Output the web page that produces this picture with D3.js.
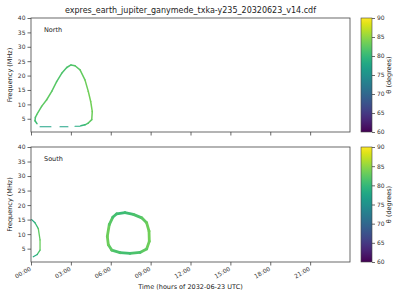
<!DOCTYPE html>
<html lang="en">
<head>
  <meta charset="UTF-8">
  <title>expres_earth_jupiter_ganymede</title>
  <style>
    body { margin: 0; background: #fff; }
    text { font-family: "DejaVu Sans", sans-serif; fill: #222; }
    .axis path, .axis line { stroke: #444; stroke-width: 0.8; fill: none; }
    .axis text { font-size: 6px; fill: #333; }
    .trace { fill: none; stroke-linecap: round; stroke-linejoin: round; }
  </style>
</head>
<body>
  <div id="chart"></div>

  <script src="https://d3js.org/d3.v7.min.js"></script>
  <script>
    // hour ticks and labels (shared x axis)
    const hourTicks = [0, 3, 6, 9, 12, 15, 18, 21];
    const hourLabels = ["00:00", "03:00", "06:00", "09:00", "12:00", "15:00", "18:00", "21:00"];
    const freqTicks = [5, 10, 15, 20, 25, 30, 35, 40];
    const thetaTicks = [60, 65, 70, 75, 80, 85, 90];

    // North hemisphere: main arc (hours, MHz, theta degrees)
    const northTime  = [0.45, 0.30, 0.33, 0.43, 0.80, 1.18, 1.56, 1.93, 2.31, 2.69, 3.01, 3.31, 3.69, 4.06, 4.31, 4.49, 4.61, 4.57, 4.31, 4.06, 3.75];
    const northFreq  = [3.3, 4.3, 5.5, 6.4, 9.3, 11.6, 14.5, 17.9, 20.8, 22.8, 23.7, 23.4, 22.0, 18.5, 14.5, 11.0, 7.5, 4.7, 3.5, 2.9, 2.6];
    const northTheta = [80, 81, 81.5, 82, 82.5, 82.5, 82.5, 82, 81.5, 81.5, 81.5, 82, 82.5, 83, 83.5, 83.5, 83.5, 83, 82, 81, 79];
    // North: broken low-frequency edge
    const northBaseStart = [0.68, 2.18, 3.31];
    const northBaseEnd   = [1.50, 2.78, 3.69];
    const northBaseFreq  = [2.2, 2.2, 2.4];
    const northBaseTheta = [77.5, 77.5, 78.5];

    // South hemisphere: early arc near midnight
    const southATime  = [0.05, 0.30, 0.55, 0.68, 0.68, 0.47, 0.17];
    const southAFreq  = [15.0, 13.9, 11.9, 8.0, 4.5, 3.0, 2.2];
    const southATheta = [77.5, 79, 82, 83, 83, 80, 77.5];

    // South hemisphere: closed loop around 06:00-09:00
    const southBTime  = [6.45, 7.07, 7.70, 8.33, 8.70, 8.88, 8.90, 8.70, 8.20, 7.45, 6.70, 6.07, 5.82, 5.74, 5.89, 6.15, 6.45];
    const southBFreq  = [17.0, 17.4, 16.8, 15.6, 13.9, 11.0, 7.5, 4.9, 3.7, 3.4, 3.6, 4.5, 6.3, 9.2, 13.3, 15.8, 17.0];
    const southBTheta = [80.5, 80.5, 81, 82, 83, 83.5, 83.5, 83, 82, 81, 81, 82, 83, 83.5, 83, 81.5, 80.5];

    const W = 400, H = 300;
    const left = 31, right = 350;
    const panels = [
      { name: "North", top: 18, bottom: 132 },
      { name: "South", top: 147, bottom: 262 }
    ];
    const cbLeft = 361, cbWidth = 11;

    const svg = d3.select("#chart").append("svg")
      .attr("width", W).attr("height", H);

    const x = d3.scaleLinear().domain([0, 24]).range([left, right]);
    const color = d3.scaleSequential(d3.interpolateViridis).domain([60, 90]);

    // gradient for the colorbars
    const grad = svg.append("defs").append("linearGradient")
      .attr("id", "viridis").attr("x1", 0).attr("y1", 1).attr("x2", 0).attr("y2", 0);
    d3.range(0, 1.0001, 0.05).forEach(s => {
      grad.append("stop").attr("offset", s).attr("stop-color", d3.interpolateViridis(s));
    });

    svg.append("text")
      .attr("x", (left + right) / 2).attr("y", 13)
      .attr("text-anchor", "middle").style("font-size", "8px")
      .text("expres_earth_jupiter_ganymede_txka-y235_20320623_v14.cdf");

    function drawTrace(g, y, ts, fs, th, width) {
      for (let i = 0; i < ts.length - 1; i++) {
        g.append("line")
          .attr("class", "trace")
          .attr("x1", x(ts[i])).attr("y1", y(fs[i]))
          .attr("x2", x(ts[i + 1])).attr("y2", y(fs[i + 1]))
          .attr("stroke", color((th[i] + th[i + 1]) / 2))
          .attr("stroke-width", width)
          .attr("stroke-linecap", "round");
      }
    }

    panels.forEach((p, pi) => {
      const y = d3.scaleLinear().domain([0.4, 40]).range([p.bottom, p.top]);
      const g = svg.append("g");

      if (pi === 0) {
        drawTrace(g, y, northTime, northFreq, northTheta, 1.5);
        northBaseStart.forEach((s, i) => {
          g.append("line").attr("class", "trace")
            .attr("x1", x(s)).attr("x2", x(northBaseEnd[i]))
            .attr("y1", y(northBaseFreq[i])).attr("y2", y(northBaseFreq[i]))
            .attr("stroke", color(northBaseTheta[i])).attr("stroke-width", 1.1);
        });
      } else {
        drawTrace(g, y, southATime, southAFreq, southATheta, 1.3);
        drawTrace(g, y, southBTime, southBFreq, southBTheta, 2.8);
      }

      // frame
      svg.append("rect")
        .attr("x", left).attr("y", p.top)
        .attr("width", right - left).attr("height", p.bottom - p.top)
        .attr("fill", "none").attr("stroke", "#444").attr("stroke-width", 0.8);

      svg.append("g").attr("class", "axis")
        .attr("transform", `translate(${left},0)`)
        .call(d3.axisLeft(y).tickValues(freqTicks).tickSize(3.5).tickPadding(2))
        .call(a => a.select(".domain").remove());

      const xa = svg.append("g").attr("class", "axis")
        .attr("transform", `translate(0,${p.bottom})`)
        .call(d3.axisBottom(x).tickValues(hourTicks).tickSize(3.5)
          .tickFormat((d, i) => pi === 1 ? hourLabels[i] : ""))
        .call(a => a.select(".domain").remove());
      if (pi === 1) {
        xa.selectAll("text")
          .attr("text-anchor", "end")
          .attr("dy", null).attr("y", 0)
          .attr("transform", "translate(0,8) rotate(-30)");
      }

      svg.append("text")
        .attr("x", 44).attr("y", p.top + 14)
        .style("font-size", "6.5px").text(p.name);

      svg.append("text")
        .attr("transform", `translate(12,${(p.top + p.bottom) / 2}) rotate(-90)`)
        .attr("text-anchor", "middle").style("font-size", "6.5px")
        .text("Frequency (MHz)");

      // colorbar
      const cb = d3.scaleLinear().domain([60, 90]).range([p.bottom, p.top]);
      svg.append("rect")
        .attr("x", cbLeft).attr("y", p.top)
        .attr("width", cbWidth).attr("height", p.bottom - p.top)
        .attr("fill", "url(#viridis)").attr("stroke", "#444").attr("stroke-width", 0.6);
      svg.append("g").attr("class", "axis")
        .attr("transform", `translate(${cbLeft + cbWidth},0)`)
        .call(d3.axisRight(cb).tickValues(thetaTicks).tickSize(3).tickPadding(2))
        .call(a => a.select(".domain").remove());
      svg.append("text")
        .attr("transform", `translate(391,${(p.top + p.bottom) / 2}) rotate(-90)`)
        .attr("text-anchor", "middle").style("font-size", "6.5px")
        .text("θ (degrees)");
    });

    svg.append("text")
      .attr("x", (left + right) / 2).attr("y", 289)
      .attr("text-anchor", "middle").style("font-size", "6.5px")
      .text("Time (hours of 2032-06-23 UTC)");
  </script>
</body>
</html>
